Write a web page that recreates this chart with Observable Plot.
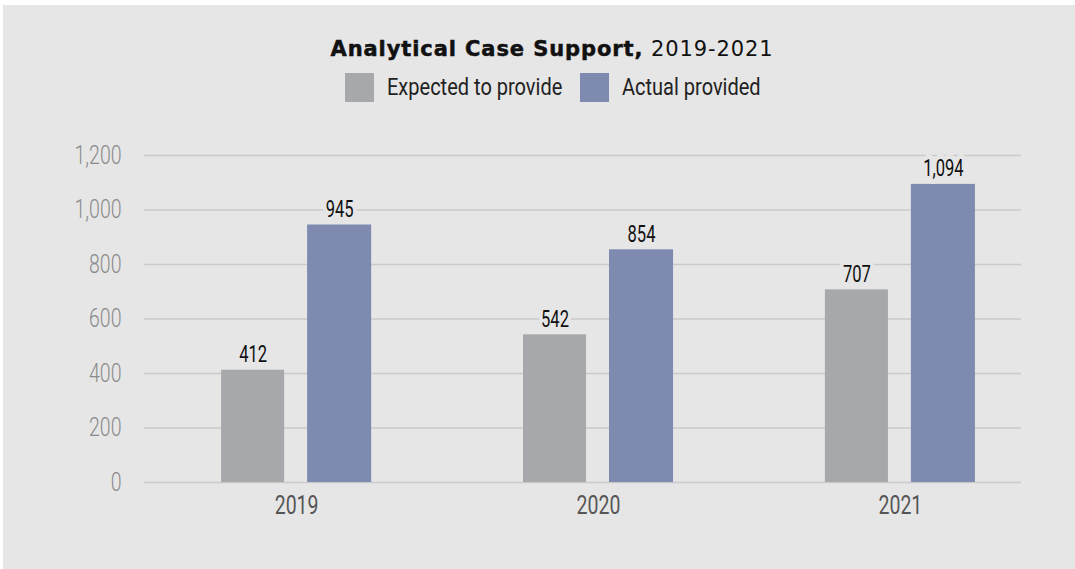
<!DOCTYPE html>
<html><head><meta charset="utf-8">
<script src="https://cdn.jsdelivr.net/npm/d3@7"></script>
<script src="https://cdn.jsdelivr.net/npm/@observablehq/plot@0.6"></script>
<style>
  html,body{margin:0;padding:0;background:#fff;width:1075px;height:569px;overflow:hidden;}
  #panel{position:absolute;left:3px;top:5px;width:1072px;height:564px;background:#e6e6e6;}
  #title{position:absolute;left:0;top:37px;width:1104px;text-align:center;font-family:"DejaVu Sans",sans-serif;font-size:21px;letter-spacing:0.9px;line-height:24px;color:#111;white-space:nowrap;}
  #title b{font-weight:700;-webkit-text-stroke:0.5px #111;}
  #legend{position:absolute;left:345px;top:73px;height:29px;display:flex;align-items:center;font-family:Roboto,sans-serif;font-size:23px;color:#222;white-space:nowrap;}
  #legend .sw{width:29px;height:29px;margin-right:13px;flex:none;}
  #legend .item{display:flex;align-items:center;margin-right:18px;}
  #legend .wrap{display:inline-block;overflow:visible;}
  #legend .lab{display:inline-block;transform:scaleX(0.87);transform-origin:0 50%;}
  #chart{position:absolute;left:0;top:0;}
</style>
</head><body>
<div id="panel"></div>
<div id="title"><b>Analytical Case Support,</b> 2019-2021</div>
<div id="legend"></div>
<div id="chart"></div>
<script>
const years = ["2019", "2020", "2021"];
const series = ["Expected to provide", "Actual provided"];
const expected = [412, 542, 707];
const actual = [945, 854, 1094];
const colors = ["#a7a8ab", "#7f8ab0"];
const yTicks = [0, 200, 400, 600, 800, 1000, 1200];

const expData = years.map((yr, i) => ({year: yr, series: series[0], value: expected[i]}));
const actData = years.map((yr, i) => ({year: yr, series: series[1], value: actual[i]}));

const fmt = d3.format(",");

// legend (HTML, built from the series / colour arrays)
const legend = document.getElementById("legend");
series.forEach((s, i) => {
  const item = document.createElement("div");
  item.className = "item";
  const sw = document.createElement("div");
  sw.className = "sw";
  sw.style.background = colors[i];
  const wrap = document.createElement("span");
  wrap.className = "wrap";
  const lab = document.createElement("span");
  lab.className = "lab";
  lab.textContent = s;
  wrap.appendChild(lab);
  item.appendChild(sw);
  item.appendChild(wrap);
  legend.appendChild(item);
  wrap.style.width = lab.getBoundingClientRect().width + "px";
});

const labelStyle = {fontSize: 23, fontFamily: "Roboto, sans-serif", fill: "#111", stroke: "#e6e6e6", strokeWidth: 10, paintOrder: "stroke", lineAnchor: "bottom"};

const chart = Plot.plot({
  width: 1075,
  height: 569,
  marginTop: 155,
  marginBottom: 87,
  marginLeft: 144,
  marginRight: 54,
  style: {background: "transparent", fontFamily: "Roboto, sans-serif", overflow: "visible"},
  x: {domain: years, paddingInner: 0.503, paddingOuter: 0.204, align: 0.626, round: false, label: null},
  y: {domain: [0, 1200], label: null},
  marks: [
    Plot.ruleY(yTicks, {stroke: "#cacaca", strokeWidth: 1.5}),
    Plot.axisY(yTicks, {tickSize: 0, tickPadding: 23, tickFormat: fmt, fontSize: 25, fontWeight: 300, fill: "#8a8a8a", label: null}),
    Plot.axisX({anchor: "bottom", tickSize: 0, tickPadding: 14, fontSize: 25, fill: "#555", label: null}),
    Plot.barY(expData, {x: "year", y: "value", fill: colors[0], insetRight: 87}),
    Plot.barY(actData, {x: "year", y: "value", fill: colors[1], insetLeft: 86}),
    Plot.text(expData, {x: "year", y: "value", text: d => fmt(d.value), dx: -43.5, dy: -8, ...labelStyle}),
    Plot.text(actData, {x: "year", y: "value", text: d => fmt(d.value), dx: 43, dy: -8, ...labelStyle})
  ]
});

// condense the text horizontally (the reference uses a condensed face)
chart.querySelectorAll("text").forEach(t => {
  const tr = t.getAttribute("transform");
  if (tr && tr.includes("translate")) {
    const size = parseFloat(t.closest("[font-size]")?.getAttribute("font-size") || 0);
    const sx = size === 23 ? 0.72 : 0.78;
    t.setAttribute("transform", tr + ` scale(${sx},1)`);
  }
});

document.getElementById("chart").appendChild(chart);
</script>
</body></html>
